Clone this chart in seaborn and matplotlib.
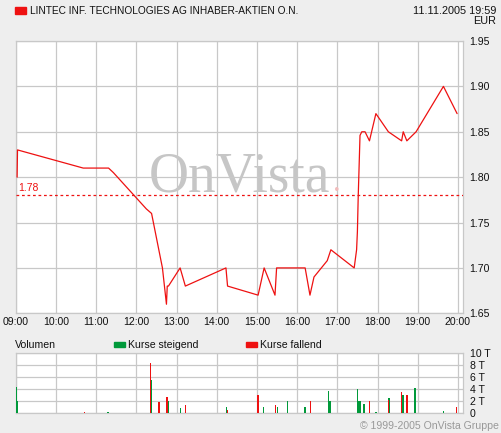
import matplotlib
matplotlib.use("Agg")
import matplotlib.pyplot as plt
import seaborn as sns
import pandas as pd

# ---------------- data ----------------
title = "LINTEC INF. TECHNOLOGIES AG INHABER-AKTIEN O.N."
stamp = "11.11.2005 19:59"
currency = "EUR"
ref_price = 1.78

price_time = [9.035, 9.045, 10.68, 11.31, 11.43, 12.25, 12.38, 12.65, 12.75, 12.77, 12.80,
              13.09, 13.22, 14.23, 14.27, 15.03, 15.18, 15.45, 15.49, 16.20, 16.32,
              16.42, 16.75, 16.84, 17.42, 17.48, 17.50, 17.52, 17.565, 17.61, 17.69,
              17.80, 17.96, 18.27, 18.60, 18.64, 18.73, 18.96, 19.64, 19.98]
price_value = [1.80, 1.83, 1.81, 1.81, 1.805, 1.765, 1.76, 1.70, 1.66, 1.68, 1.68,
               1.70, 1.68, 1.70, 1.68, 1.67, 1.70, 1.67, 1.70, 1.70, 1.67,
               1.69, 1.708, 1.72, 1.70, 1.72, 1.74, 1.778, 1.846, 1.85, 1.85,
               1.84, 1.87, 1.85, 1.84, 1.85, 1.84, 1.85, 1.90, 1.87]

up_time = [9.01, 9.04, 11.30, 12.37, 12.80, 13.10, 14.24, 15.16, 15.51, 15.76, 16.20,
           16.40, 16.78, 16.82, 17.50, 17.53, 17.56, 17.67, 17.96, 18.29, 18.64,
           18.94, 19.64]
up_vol = [4.4, 2.1, 0.3, 5.6, 2.1, 0.9, 1.1, 1.1, 1.1, 2.1, 1.1,
          0.1, 3.7, 2.1, 4.1, 2.0, 2.0, 1.6, 0.2, 2.6, 3.1,
          4.2, 0.4]
down_time = [10.71, 12.35, 12.57, 12.77, 13.22, 14.27, 15.03, 15.46, 16.33, 17.42,
             17.80, 18.27, 18.60, 18.73, 19.97]
down_vol = [0.2, 8.4, 1.9, 2.7, 1.4, 0.6, 3.1, 1.4, 2.1, 0.1,
            2.1, 2.3, 3.6, 3.1, 1.1]

hour_ticks = list(range(9, 21))
hour_labels = [f"{h:02d}:00" for h in hour_ticks]
price_ticks = [1.65, 1.70, 1.75, 1.80, 1.85, 1.90, 1.95]
vol_ticks = [0, 2, 4, 6, 8, 10]
vol_labels = ["0", "2 T", "4 T", "6 T", "8 T", "10 T"]

# ---------------- style ----------------
sns.set_style("white")
plt.rcParams["font.family"] = ["Liberation Sans", "DejaVu Sans"]
BG = "#eeeeee"
GRID = "#c8c8c8"
RED = "#ee1111"
GREEN = "#00993a"
TXT = "#111111"

W, H = 501, 433
fig = plt.figure(figsize=(W / 100, H / 100), dpi=100, facecolor=BG)

def fx(px):
    return px / W

def fy(py):
    return 1 - py / H

L, R = 15.7, 462.7
px_per_hour = 40.2
xmax = 9 + (R - L) / px_per_hour

# ---------------- price panel ----------------
ax = fig.add_axes([fx(L), fy(313.3), fx(R - L), (313.3 - 41) / H])
ax.set_facecolor("white")
df = pd.DataFrame({"t": price_time, "p": price_value})
sns.lineplot(data=df, x="t", y="p", sort=False, estimator=None, color=RED,
             linewidth=0.9, ax=ax, zorder=4)
ax.axhline(ref_price, color=RED, linewidth=0.9, linestyle=(0, (2.2, 2.2)), zorder=3)
ax.text(9.06, ref_price + 0.002, "1.78", color=RED, fontsize=7.5, va="bottom", ha="left")
ax.set_xlim(9, xmax)
ax.set_ylim(1.65, 1.95)
ax.set_xticks(hour_ticks)
ax.set_xticklabels(hour_labels)
ax.set_yticks(price_ticks)
ax.set_yticklabels([f"{v:.2f}" for v in price_ticks])
ax.yaxis.tick_right()
ax.tick_params(axis="both", length=0, labelsize=7.6, colors=TXT)
ax.tick_params(axis="y", pad=5)
ax.tick_params(axis="x", pad=3)
ax.set_xlabel("")
ax.set_ylabel("")
ax.grid(True, color=GRID, linewidth=0.9)
ax.set_axisbelow(True)
for s in ax.spines.values():
    s.set_color(GRID)
    s.set_linewidth(0.9)

# watermark
ax.text(0.5, 0.5, "OnVista", transform=ax.transAxes, ha="center", va="center",
        fontsize=40, family=["Liberation Serif", "DejaVu Serif"], color="#c6c6c6", zorder=0)
fig.text(fx(337), fy(191), ".", fontsize=22, color="#f2bcbc", ha="center", va="baseline",
         family=["Liberation Serif", "DejaVu Serif"])

# ---------------- volume panel ----------------
ax2 = fig.add_axes([fx(L), fy(413.3), fx(R - L), 60 / H])
ax2.set_facecolor("white")
ax2.bar(up_time, up_vol, width=0.04, color=GREEN, edgecolor="none", linewidth=0,
        align="center", zorder=3, antialiased=False)
ax2.bar(down_time, down_vol, width=0.04, color=RED, edgecolor="none", linewidth=0,
        align="center", zorder=3, antialiased=False)
ax2.set_xlim(9, xmax)
ax2.set_ylim(0, 10)
ax2.set_xticks(hour_ticks)
ax2.set_xticklabels([])
ax2.set_yticks(vol_ticks)
ax2.set_yticklabels(vol_labels)
ax2.yaxis.tick_right()
ax2.tick_params(axis="both", length=0, labelsize=7.6, colors=TXT)
ax2.tick_params(axis="y", pad=5)
ax2.grid(True, color=GRID, linewidth=0.9)
ax2.set_axisbelow(True)
for s in ax2.spines.values():
    s.set_color(GRID)
    s.set_linewidth(0.9)

# ---------------- header / legend / footer ----------------
fig.patches.append(plt.Rectangle((fx(15), fy(13.5)), fx(10.7), 6 / H, color=RED,
                                 transform=fig.transFigure))
fig.text(fx(29.5), fy(10.5), title, fontsize=7.3, color=TXT, ha="left", va="center")
fig.text(fx(496), fy(10.5), stamp, fontsize=7.8, color=TXT, ha="right", va="center")
fig.text(fx(496), fy(21), currency, fontsize=7.8, color=TXT, ha="right", va="center")

fig.text(fx(15), fy(344.5), "Volumen", fontsize=7.6, color=TXT, ha="left", va="center")
fig.patches.append(plt.Rectangle((fx(114), fy(347)), fx(11), 5 / H, color=GREEN,
                                 transform=fig.transFigure))
fig.text(fx(128), fy(344.5), "Kurse steigend", fontsize=7.6, color=TXT, ha="left", va="center")
fig.patches.append(plt.Rectangle((fx(246), fy(347)), fx(11), 5 / H, color=RED,
                                 transform=fig.transFigure))
fig.text(fx(260), fy(344.5), "Kurse fallend", fontsize=7.6, color=TXT, ha="left", va="center")

fig.text(fx(499), fy(426), "\u00a9 1999-2005 OnVista Gruppe", fontsize=7.6, color="#999999",
         ha="right", va="center")

fig.savefig("out.png", dpi=100, facecolor=BG)
